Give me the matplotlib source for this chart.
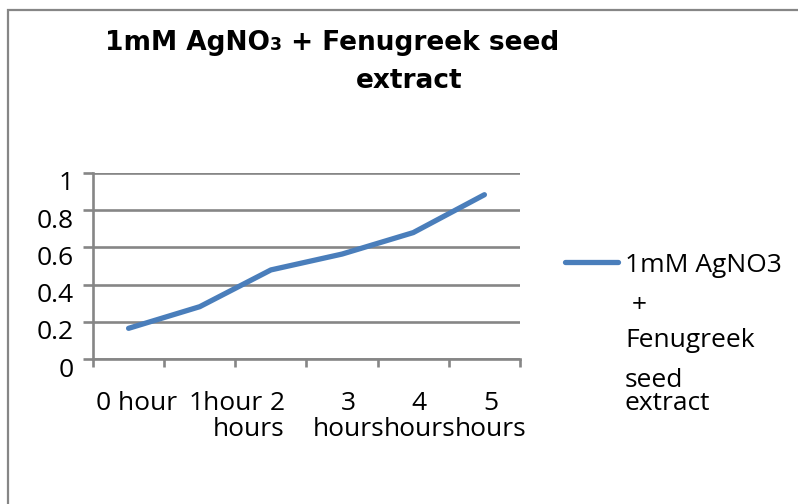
import matplotlib
matplotlib.use("Agg")
import matplotlib.pyplot as plt
import matplotlib.transforms as mtransforms
from matplotlib.patches import Rectangle

# data
categories = ["0 hour", "1hour", "2\nhours", "3\nhours", "4\nhours", "5\nhours"]
absorbance = [0.166, 0.282, 0.479, 0.564, 0.679, 0.882]
series_label = "1mM AgNO3"
legend_extra = [" +", "Fenugreek", "seed", "extract"]
yticks = [0, 0.2, 0.4, 0.6, 0.8, 1]
ytick_labels = ["0", "0.2", "0.4", "0.6", "0.8", "1"]

W, H = 798, 504
GREY = "#868686"
BLUE = "#4a7ebb"
BODY_FONT = "Open Sans"
BODY_SIZE = 19

fig = plt.figure(figsize=(W / 100, H / 100), dpi=100)

def fx(px):
    return px / W

def fy(py):
    return 1 - py / H

# outer chart frame (runs off the right/bottom edge)
fig.add_artist(Rectangle((fx(8), -0.1), 1.2, fy(10) + 0.1, transform=fig.transFigure,
                         fill=False, edgecolor=GREY, lw=1.6, clip_on=False))

ax = fig.add_axes([fx(93), fy(359.3), fx(520) - fx(93), fy(172.7) - fy(359.3)])
x = list(range(len(categories)))
ax.plot(x, absorbance, color=BLUE, lw=3.8, solid_capstyle="round",
        solid_joinstyle="round", label=series_label, zorder=3)

ax.set_xlim(-0.5, len(categories) - 0.5)
ax.set_ylim(0, 1)

for side in ["top", "right"]:
    ax.spines[side].set_visible(False)
for side in ["left", "bottom"]:
    ax.spines[side].set_color(GREY)
    ax.spines[side].set_linewidth(1.9)

ax.set_yticks(yticks, ytick_labels, fontfamily=BODY_FONT, fontsize=BODY_SIZE)
ax.yaxis.grid(True, color=GREY, lw=1.9)
ax.tick_params(axis="y", direction="out", length=7, width=1.9, color=GREY, pad=7)
ax.set_axisbelow(True)

ax.set_xticks(x, categories, fontfamily=BODY_FONT, fontsize=BODY_SIZE, linespacing=1.05)
ax.set_xticks([i - 0.5 for i in range(len(categories) + 1)], minor=True)
ax.tick_params(axis="x", which="major", length=0, pad=23)
ax.tick_params(axis="x", which="minor", direction="out", length=6, width=1.9, color=GREY)

# nudge labels to sit where the reference draws them
for lab in ax.get_yticklabels():
    lab.set_transform(lab.get_transform() +
                      mtransforms.ScaledTranslation(0, -0.08, fig.dpi_scale_trans))
x_shift = [7.5, 26, -22, 6, 6, 6]
for lab, dx in zip(ax.get_xticklabels(), x_shift):
    lab.set_transform(lab.get_transform() +
                      mtransforms.ScaledTranslation(dx / 100, 0, fig.dpi_scale_trans))
ax.get_xticklabels()[2].set_multialignment("right")

# legend: first line via matplotlib legend, remaining wrapped lines as text
leg = fig.legend(loc="center left", bbox_to_anchor=(fx(565), fy(265)), frameon=False,
                 prop={"family": BODY_FONT, "size": BODY_SIZE}, handlelength=2.0,
                 handletextpad=0.26, borderpad=0, borderaxespad=0)
leg_y = [312, 347, 387, 410]
for txt, py in zip(legend_extra, leg_y):
    fig.text(fx(625), fy(py), txt, ha="left", va="baseline",
             fontfamily=BODY_FONT, fontsize=BODY_SIZE)

# title with small "3"
renderer = fig.canvas.get_renderer()
title_font = dict(fontfamily="DejaVu Sans", fontweight="bold", va="baseline")
parts = [("1mM AgNO", 19), ("3", 12.5), (" + Fenugreek seed", 19)]
cur = 105
for txt, size in parts:
    t = fig.text(fx(cur), fy(50), txt, ha="left", fontsize=size, **title_font)
    bb = t.get_window_extent(renderer)
    cur += bb.width
fig.text(fx(409), fy(88), "extract", ha="center", fontsize=19, **title_font)

fig.savefig("out.png", dpi=100)
